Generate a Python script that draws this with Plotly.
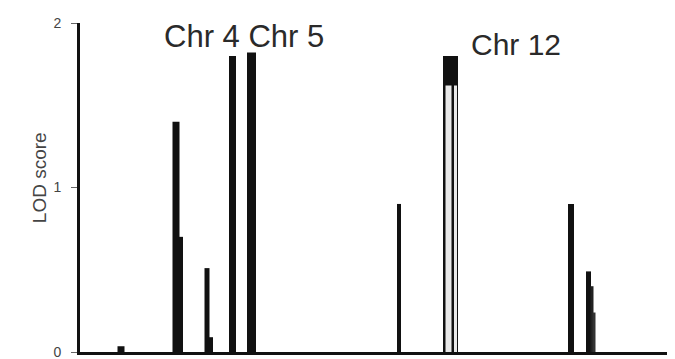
import plotly.graph_objects as go

# Genome position (arbitrary units along the concatenated chromosomes), bar width, LOD
pos = [41, 96, 101, 127, 131, 152.5, 171.5, 319, 370.5, 368.5, 375.5, 491, 508.5, 512, 514]
wid = [7, 7, 4, 5, 4, 7, 9, 4, 15, 6, 3, 6, 5, 3, 3]
lod = [0.035, 1.40, 0.70, 0.51, 0.09, 1.80, 1.82, 0.90, 1.80, 1.62, 1.62, 0.90, 0.49, 0.40, 0.24]
col = ["#111", "#111", "#111", "#111", "#111", "#111", "#111", "#111",
       "#111", "#e8e8e8", "#e8e8e8", "#111", "#111", "#222", "#333"]

labels = ["Chr 4 Chr 5", "Chr 12"]
label_x = [164, 436]
label_y = [1.915, 1.87]
label_size = [31, 30]

fig = go.Figure()
fig.add_trace(go.Bar(x=pos, y=lod, width=wid, marker=dict(color=col, line=dict(width=0)),
                     showlegend=False))

for t, x, y, s in zip(labels, label_x, label_y, label_size):
    fig.add_annotation(x=x, y=y, text=t, showarrow=False,
                       font=dict(size=s, color="#2a2a2a", family="Liberation Sans, Arial"))

# y-axis title placed as a rotated annotation
fig.add_annotation(xref="paper", yref="paper", x=-0.089, y=0.53, text="LOD score",
                   textangle=-90, showarrow=False,
                   font=dict(size=19, color="#444", family="Liberation Sans, Arial"))

# The page body has an 8px margin, so the figure is sized/offset to compensate
fig.update_layout(
    width=667, height=351,
    margin=dict(l=72, r=0, t=15, b=7, autoexpand=False),
    paper_bgcolor="white", plot_bgcolor="white",
    barmode="overlay",
    font=dict(family="Liberation Sans, Arial", color="#333"),
)
fig.update_xaxes(range=[0, 595], showline=True, linewidth=3, linecolor="#111",
                 showticklabels=False, ticks="", showgrid=False, zeroline=False)
fig.update_yaxes(range=[0, 2], tickvals=[0, 1, 2], ticktext=["0", "1", "2"],
                 showline=True, linewidth=3, linecolor="#111",
                 ticks="outside", ticklen=6, tickwidth=1, tickcolor="#666",
                 tickfont=dict(size=14, color="#444", family="Liberation Sans Narrow, Liberation Sans"),
                 ticklabelstandoff=7, ticklabeloverflow="allow",
                 showgrid=False, zeroline=False, automargin=False)

fig.write_html("out.html")
